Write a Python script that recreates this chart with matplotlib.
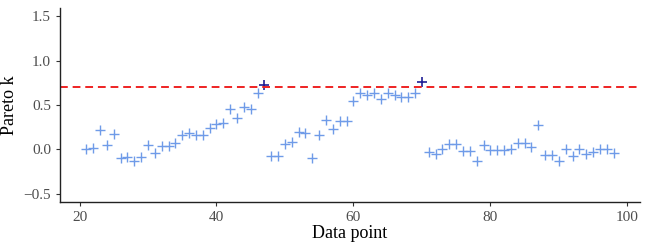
import matplotlib.pyplot as plt
import numpy as np

plt.rcParams['font.family'] = ['Liberation Serif', 'DejaVu Serif']

# Pareto k diagnostic values per data point
data_point = np.arange(21, 99)
pareto_k = [0.00, 0.02, 0.22, 0.05, 0.17, -0.10, -0.08, -0.13, -0.08, 0.05,
            -0.04, 0.04, 0.04, 0.07, 0.16, 0.18, 0.16, 0.16, 0.24, 0.29,
            0.30, 0.46, 0.35, 0.48, 0.45, 0.63, 0.73, -0.07, -0.07, 0.06,
            0.08, 0.20, 0.18, -0.10, 0.16, 0.33, 0.23, 0.32, 0.32, 0.55,
            0.63, 0.61, 0.63, 0.57, 0.63, 0.61, 0.59, 0.59, 0.63, 0.76,
            -0.03, -0.05, 0.01, 0.06, 0.06, -0.02, -0.02, -0.13, 0.05, -0.01,
            -0.01, -0.01, 0.01, 0.07, 0.07, 0.03, 0.28, -0.06, -0.06, -0.13,
            0.00, -0.07, 0.00, -0.05, -0.03, 0.00, 0.00, -0.04]
pareto_k = np.array(pareto_k)
threshold = 0.7

fig = plt.figure(figsize=(6.5, 2.5), dpi=100)
ax = fig.add_axes([60 / 650, 48 / 250, 580 / 650, 194 / 250])

bad = pareto_k > threshold
ax.plot(data_point[~bad], pareto_k[~bad], '+', color='#6f9be8', markersize=7.5, mew=1.0)
ax.plot(data_point[bad], pareto_k[bad], '+', color='#1f1f96', markersize=7.5, mew=1.2)
ax.axhline(threshold, color='#ee2222', linestyle=(0, (4, 2.5)), linewidth=1.4)

ax.set_xlim(17.15, 101.85)
ax.set_ylim(-0.59, 1.59)
ax.set_xticks([20, 40, 60, 80, 100])
ax.set_yticks([-0.5, 0.0, 0.5, 1.0, 1.5])
ax.set_yticklabels(['\u22120.5', '0.0', '0.5', '1.0', '1.5'])
ax.set_xlabel('Data point', fontsize=13, labelpad=1)
ax.set_ylabel('Pareto k', fontsize=13, labelpad=4)
ax.tick_params(labelsize=11, colors='#4d4d4d', length=3, width=0.8)
ax.tick_params(axis='both', color='#333333')
for side in ['top', 'right']:
    ax.spines[side].set_visible(False)
for side in ['left', 'bottom']:
    ax.spines[side].set_linewidth(1.0)
    ax.spines[side].set_color('#222222')

fig.savefig('out.png', dpi=100)
